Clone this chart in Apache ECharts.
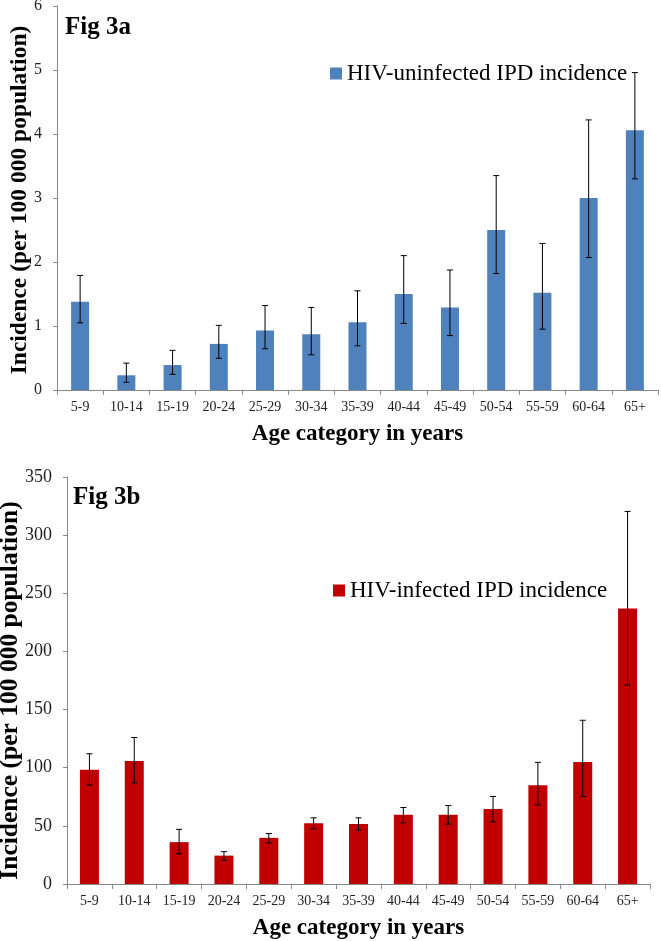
<!DOCTYPE html>
<html>
<head>
<meta charset="utf-8">
<script src="https://cdn.jsdelivr.net/npm/echarts@6/dist/echarts.min.js"></script>
<style>
  html, body { margin: 0; padding: 0; background: #fff; }
  #chart { width: 661px; height: 941px; }
</style>
</head>
<body>
<div id="chart"></div>
<script>
// age groups shared by both panels
var ageGroups = ['5-9', '10-14', '15-19', '20-24', '25-29', '30-34', '35-39', '40-44', '45-49', '50-54', '55-59', '60-64', '65+'];

// Fig 3a - HIV-uninfected
var uninfRate = [1.38, 0.23, 0.39, 0.72, 0.93, 0.87, 1.06, 1.50, 1.29, 2.50, 1.52, 3.00, 4.06];
var uninfLow  = [1.05, 0.12, 0.245, 0.495, 0.645, 0.55, 0.69, 1.04, 0.85, 1.82, 0.95, 2.07, 3.30];
var uninfHigh = [1.79, 0.42, 0.62, 1.01, 1.32, 1.29, 1.55, 2.10, 1.875, 3.35, 2.29, 4.22, 4.96];

// Fig 3b - HIV-infected
var infRate = [98.3, 105.8, 36, 24.4, 39.7, 52.3, 51.7, 59.5, 59.5, 64.4, 85, 105, 237];
var infLow  = [85, 87, 26, 20.4, 35.3, 47.4, 46.3, 52.6, 51.5, 53.4, 68, 75.3, 171];
var infHigh = [112, 126, 47, 27.8, 43.4, 56.9, 56.9, 65.8, 67.5, 75.3, 104.6, 140.8, 320.4];

var serif = 'Liberation Serif';
var axisGrey = '#898989';

function errRows(low, high) {
  return low.map(function (v, i) { return [i, v, high[i]]; });
}

function errorBar(params, api) {
  var x = api.value(0);
  var lo = api.coord([x, api.value(1)]);
  var hi = api.coord([x, api.value(2)]);
  var w = 3;
  var st = { stroke: '#000', lineWidth: 1 };
  return {
    type: 'group',
    children: [
      { type: 'line', shape: { x1: hi[0], y1: hi[1], x2: lo[0], y2: lo[1] }, style: st },
      { type: 'line', shape: { x1: hi[0] - w, y1: hi[1], x2: hi[0] + w, y2: hi[1] }, style: st },
      { type: 'line', shape: { x1: lo[0] - w, y1: lo[1], x2: lo[0] + w, y2: lo[1] }, style: st }
    ]
  };
}

function xAx(idx) {
  return {
    type: 'category',
    gridIndex: idx,
    data: ageGroups,
    name: 'Age category in years',
    nameLocation: 'middle',
    nameGap: 33,
    nameMoveOverlap: false,
    nameTextStyle: { fontFamily: serif, fontWeight: 'bold', fontSize: 23, color: '#000' },
    axisLine: { lineStyle: { color: axisGrey } },
    axisTick: { show: true, length: 5, lineStyle: { color: axisGrey } },
    axisLabel: { interval: 0, fontFamily: serif, fontSize: 14, color: '#222', margin: 10 }
  };
}

function yAx(idx, max, step, labelSize, nameSize, gap, namePad) {
  return {
    type: 'value',
    gridIndex: idx,
    min: 0,
    max: max,
    interval: step,
    name: 'Incidence (per 100 000 population)',
    nameLocation: 'middle',
    nameGap: gap,
    nameMoveOverlap: false,
    nameTextStyle: { fontFamily: serif, fontWeight: 'bold', fontSize: nameSize, color: '#000', padding: namePad },
    splitLine: { show: false },
    axisLine: { show: true, lineStyle: { color: axisGrey } },
    axisTick: { show: true, length: 4, lineStyle: { color: axisGrey } },
    axisLabel: { fontFamily: serif, fontSize: labelSize, color: '#222', margin: 15 }
  };
}

var myChart = echarts.init(document.getElementById('chart'));

var option = {
  backgroundColor: '#fff',
  animation: false,
  title: [
    { text: 'Fig 3a', left: 60, top: 10, textStyle: { fontFamily: serif, fontWeight: 'bold', fontSize: 25, color: '#000' } },
    { text: 'Fig 3b', left: 68, top: 480, textStyle: { fontFamily: serif, fontWeight: 'bold', fontSize: 25, color: '#000' } }
  ],
  legend: [
    {
      data: ['HIV-uninfected IPD incidence'],
      left: 325, top: 57, icon: 'rect', itemWidth: 12, itemHeight: 12, itemGap: 5,
      textStyle: { fontFamily: serif, fontSize: 23, color: '#000' }
    },
    {
      data: ['HIV-infected IPD incidence'],
      left: 328, top: 574, icon: 'rect', itemWidth: 12, itemHeight: 12, itemGap: 5,
      textStyle: { fontFamily: serif, fontSize: 23, color: '#000' }
    }
  ],
  grid: [
    { left: 57, right: 3, top: 6, bottom: 551, outerBoundsMode: 'none' },
    { left: 67, right: 11, top: 477, bottom: 57, outerBoundsMode: 'none' }
  ],
  xAxis: [xAx(0), xAx(1)],
  yAxis: [yAx(0, 6, 1, 16, 23.5, 25, [0, 4, 0, 0]), yAx(1, 350, 50, 18, 25.5, 44, [0, 20, 0, 0])],
  series: [
    {
      name: 'HIV-uninfected IPD incidence',
      type: 'bar',
      xAxisIndex: 0, yAxisIndex: 0,
      barWidth: 18,
      itemStyle: { color: '#4F81BD' },
      data: uninfRate
    },
    {
      type: 'custom',
      xAxisIndex: 0, yAxisIndex: 0,
      renderItem: errorBar,
      encode: { x: 0, y: [1, 2] },
      z: 5,
      data: errRows(uninfLow, uninfHigh)
    },
    {
      name: 'HIV-infected IPD incidence',
      type: 'bar',
      xAxisIndex: 1, yAxisIndex: 1,
      barWidth: 19,
      itemStyle: { color: '#C00000' },
      data: infRate
    },
    {
      type: 'custom',
      xAxisIndex: 1, yAxisIndex: 1,
      renderItem: errorBar,
      encode: { x: 0, y: [1, 2] },
      z: 5,
      data: errRows(infLow, infHigh)
    }
  ]
};

myChart.setOption(option);
</script>
</body>
</html>
